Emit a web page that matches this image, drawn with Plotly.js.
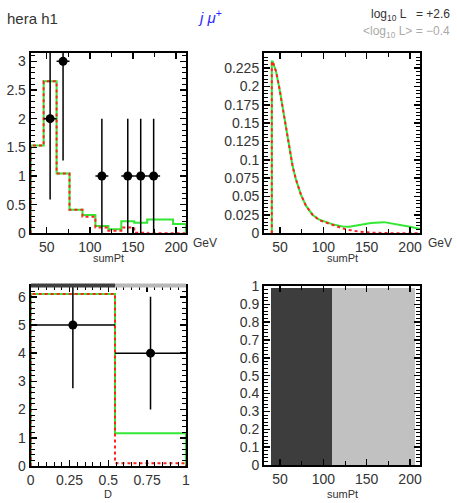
<!DOCTYPE html>
<html>
<head>
<meta charset="utf-8">
<script src="https://cdn.plot.ly/plotly-3.0.1.min.js"></script>
<style>
  html, body { margin: 0; padding: 0; background: #fff; }
  #plot { width: 457px; height: 503px; }
</style>
</head>
<body>
<div id="plot"></div>
<script>
// sumPt histogram (top left)
const sumPtEdges = [31.5, 46.5, 61.5, 76.5, 91.5, 106.5, 121.5, 136.5, 151.5, 166.5, 181.5, 196.5, 211.5];
const sumPtGreen = [1.53, 2.65, 1.045, 0.41, 0.32, 0.127, 0.07, 0.21, 0.185, 0.24, 0.24, 0.16];
const sumPtRed = [1.53, 2.65, 1.045, 0.41, 0.29, 0.10, 0.045, 0.10, 0.01, 0, 0, 0];
const sumPtDataX = [54, 69, 114, 144, 159, 174];
const sumPtDataY = [2, 3, 1, 1, 1, 1];
const sumPtDataErr = [1.41, 1.73, 1, 1, 1, 1];

// sumPt density (top right)
const curveX = [40.5, 40.5, 41.5, 45.4, 49.2, 53.1, 56.9, 60.8, 64.6, 68.5, 74.2, 80, 87.7, 95.4, 101, 110, 122, 130, 140, 155, 170, 186, 200, 211.5];
const curveGreen = [0, 0.234, 0.234, 0.2205, 0.198, 0.170, 0.141, 0.1136, 0.0909, 0.0727, 0.0523, 0.0373, 0.025, 0.0185, 0.0165, 0.0125, 0.0093, 0.0090, 0.0110, 0.0140, 0.0152, 0.0120, 0.0088, 0.0058];
const curveRed = [0, 0.234, 0.234, 0.2205, 0.198, 0.170, 0.141, 0.1136, 0.0909, 0.0727, 0.0523, 0.0373, 0.025, 0.0178, 0.0155, 0.0108, 0.0068, 0.0045, 0.0025, 0.0008, 0.0001, 0, 0, 0];

// D histogram (bottom left)
const dEdges = [0, 0.543, 1];
const dGreen = [6.1, 1.16];
const dRed = [6.1, 0.1];
const dDataY = [5, 4];
const dDataErr = [2.24, 2];
const dBandColors = ['#404040', '#b8b8b8'];

// efficiency-like bands (bottom right)
const bandEdges = [40, 110.3, 205.7];
const bandValues = [0.99, 0.99];
const bandColors = ['#3d3d3d', '#c1c1c1'];

const green = '#33e833';
const red = '#ff2020';

function steps(edges, vals) {
    let xs = [edges[0]], ys = [0];
    for (let i = 0; i < vals.length; i++) {
        xs.push(edges[i], edges[i + 1]);
        ys.push(vals[i], vals[i]);
    }
    xs.push(edges[edges.length - 1]);
    ys.push(0);
    return {x: xs, y: ys};
}

function centers(edges) {
    return edges.slice(0, -1).map((e, i) => (e + edges[i + 1]) / 2);
}
function halfWidths(edges) {
    return edges.slice(0, -1).map((e, i) => (edges[i + 1] - e) / 2);
}

let h1g = steps(sumPtEdges, sumPtGreen);
let h1r = steps(sumPtEdges, sumPtRed);
let h3g = steps(dEdges, dGreen);
let h3r = steps(dEdges, dRed);

let traces = [
    {x: h1g.x, y: h1g.y, xaxis: 'x', yaxis: 'y', mode: 'lines', line: {color: green, width: 2}},
    {x: h1r.x, y: h1r.y, xaxis: 'x', yaxis: 'y', mode: 'lines', line: {color: red, width: 2, dash: '3px,3px'}},
    {x: sumPtDataX, y: sumPtDataY, xaxis: 'x', yaxis: 'y', mode: 'markers',
        marker: {color: 'black', size: 9},
        error_y: {type: 'data', array: sumPtDataErr, color: 'black', thickness: 1.5, width: 0},
        error_x: {type: 'data', array: sumPtDataX.map(() => 7.5), color: 'black', thickness: 1.5, width: 0}},

    {x: curveX, y: curveGreen, xaxis: 'x2', yaxis: 'y2', mode: 'lines', line: {color: green, width: 2}},
    {x: curveX, y: curveRed, xaxis: 'x2', yaxis: 'y2', mode: 'lines', line: {color: red, width: 2, dash: '3px,3px'}},

    {x: h3g.x, y: h3g.y, xaxis: 'x3', yaxis: 'y3', mode: 'lines', line: {color: green, width: 2}},
    {x: h3r.x, y: h3r.y, xaxis: 'x3', yaxis: 'y3', mode: 'lines', line: {color: red, width: 2, dash: '3px,3px'}},
    {x: centers(dEdges), y: dDataY, xaxis: 'x3', yaxis: 'y3', mode: 'markers',
        marker: {color: 'black', size: 9},
        error_y: {type: 'data', array: dDataErr, color: 'black', thickness: 1.5, width: 0},
        error_x: {type: 'data', array: halfWidths(dEdges), color: 'black', thickness: 1.5, width: 0}},

    {type: 'bar', x: centers(bandEdges), y: bandValues, width: halfWidths(bandEdges).map(w => 2 * w),
        xaxis: 'x4', yaxis: 'y4', marker: {color: bandColors, line: {width: 0}}}
];

function xax(domain, anchor, range, dtick, minor) {
    return {
        domain: domain, anchor: anchor, range: range, dtick: dtick, tick0: 0,
        ticks: 'inside', ticklen: 6, tickwidth: 1.5, tickcolor: '#000',
        minor: {ticks: 'inside', ticklen: 4, dtick: minor, tick0: 0, tickcolor: '#000', tickwidth: 1},
        showline: true, linecolor: '#000', linewidth: 2, mirror: 'allticks',
        showgrid: false, zeroline: false, fixedrange: true
    };
}

let layout = {
    width: 457, height: 503,
    margin: {l: 0, r: 0, t: 0, b: 0},
    showlegend: false,
    paper_bgcolor: '#fff', plot_bgcolor: '#fff',
    bargap: 0,
    font: {family: 'Liberation Sans, Arial, sans-serif', size: 14, color: '#333'},
    xaxis: xax([0.0672, 0.4070], 'y', [31.5, 211.5], 50, 25),
    yaxis: xax([0.5362, 0.8952], 'x', [0, 3.15], 0.5, 0.1),
    xaxis2: xax([0.5777, 0.9190], 'y2', [31.5, 211.5], 50, 25),
    yaxis2: xax([0.5362, 0.8952], 'x2', [0, 0.246], 0.025, 0.005),
    xaxis3: xax([0.0672, 0.4070], 'y3', [0, 1], 0.25, 0.05),
    yaxis3: xax([0.0736, 0.4324], 'x3', [0, 6.4], 1, 0.2),
    xaxis4: xax([0.5777, 0.9190], 'y4', [31.5, 211.5], 50, 25),
    yaxis4: xax([0.0755, 0.4324], 'x4', [0, 1.005], 0.1, 0.02),
    shapes: dBandColors.map((c, i) => ({
        type: 'line', xref: 'x3', yref: 'y3 domain',
        x0: dEdges[i], x1: dEdges[i + 1], y0: 1, y1: 1,
        line: {color: c, width: 4}
    })),
    annotations: [
        {text: 'hera h1', x: 5 / 457, y: 1 - 18 / 503, xref: 'paper', yref: 'paper', xanchor: 'left', yanchor: 'middle', showarrow: false, font: {size: 15, color: '#333'}},
        {text: '<i>j μ</i><sup>+</sup>', x: 210 / 457, y: 1 - 17 / 503, xref: 'paper', yref: 'paper', xanchor: 'center', yanchor: 'middle', showarrow: false, font: {size: 15, color: '#2a2aff'}},
        {text: 'log<sub>10</sub> L   = +2.6', x: 452 / 457, y: 1 - 15 / 503, xref: 'paper', yref: 'paper', xanchor: 'right', yanchor: 'middle', showarrow: false, font: {size: 12, color: '#333'}},
        {text: '&lt;log<sub>10</sub> L&gt; = −0.4', x: 452 / 457, y: 1 - 32 / 503, xref: 'paper', yref: 'paper', xanchor: 'right', yanchor: 'middle', showarrow: false, font: {size: 12, color: '#aaa'}},
        {text: 'GeV', x: 205 / 457, y: 1 - 243 / 503, xref: 'paper', yref: 'paper', xanchor: 'center', yanchor: 'middle', showarrow: false, font: {size: 12}},
        {text: 'GeV', x: 440 / 457, y: 1 - 243 / 503, xref: 'paper', yref: 'paper', xanchor: 'center', yanchor: 'middle', showarrow: false, font: {size: 12}},
        {text: 'sumPt', x: 108 / 457, y: 1 - 258 / 503, xref: 'paper', yref: 'paper', xanchor: 'center', yanchor: 'middle', showarrow: false, font: {size: 11}},
        {text: 'sumPt', x: 342 / 457, y: 1 - 258 / 503, xref: 'paper', yref: 'paper', xanchor: 'center', yanchor: 'middle', showarrow: false, font: {size: 11}},
        {text: 'D', x: 108 / 457, y: 1 - 494 / 503, xref: 'paper', yref: 'paper', xanchor: 'center', yanchor: 'middle', showarrow: false, font: {size: 11}},
        {text: 'sumPt', x: 342 / 457, y: 1 - 494 / 503, xref: 'paper', yref: 'paper', xanchor: 'center', yanchor: 'middle', showarrow: false, font: {size: 11}}
    ]
};

Plotly.newPlot('plot', traces, layout, {staticPlot: true});
</script>
</body>
</html>
